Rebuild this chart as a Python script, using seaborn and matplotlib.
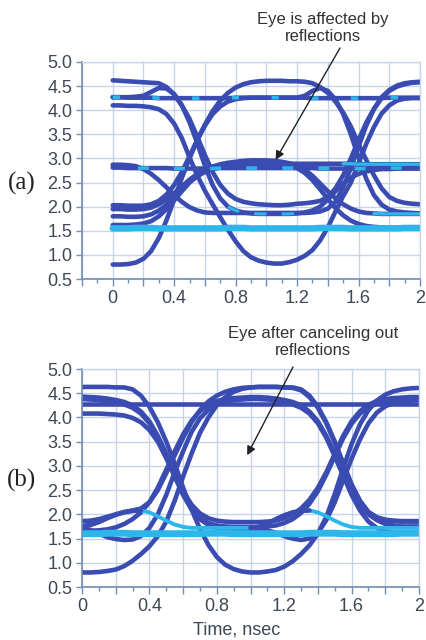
import matplotlib
matplotlib.use("Agg")
import matplotlib.pyplot as plt
from matplotlib.ticker import MultipleLocator, FuncFormatter
import seaborn as sns

# ---------------- data ----------------
TIME_NS = [0.00, 0.05, 0.10, 0.15, 0.20, 0.25, 0.30, 0.35, 0.40, 0.45,
           0.50, 0.55, 0.60, 0.65, 0.70, 0.75, 0.80, 0.85, 0.90, 0.95,
           1.00, 1.05, 1.10, 1.15, 1.20, 1.25, 1.30, 1.35, 1.40, 1.45,
           1.50, 1.55, 1.60, 1.65, 1.70, 1.75, 1.80, 1.85, 1.90, 1.95,
           2.00]

X_TICKS = [0.0, 0.4, 0.8, 1.2, 1.6, 2.0]
X_TICK_LABELS = ["0", "0.4", "0.8", "1.2", "1.6", "2"]
Y_TICKS = [0.5, 1.0, 1.5, 2.0, 2.5, 3.0, 3.5, 4.0, 4.5, 5.0]
Y_TICK_LABELS = ["0.5", "1.0", "1.5", "2.0", "2.5", "3.0", "3.5", "4.0", "4.5", "5.0"]

PANEL_LABELS = ["(a)", "(b)"]
NOTE_A = "Eye is affected by\nreflections"
NOTE_B = "Eye after canceling out\nreflections"
NOTE_A_TIP = (1.06, 2.97)
NOTE_B_TIP = (0.98, 3.22)
X_LABEL = "Time, nsec"

# panel (a): with reflections
A_FLAT_HI = [4.27, 4.27, 4.26, 4.26, 4.26, 4.26, 4.25, 4.25, 4.25, 4.25,
             4.25, 4.25, 4.25, 4.25, 4.25, 4.25, 4.26, 4.26, 4.26, 4.26,
             4.26, 4.26, 4.26, 4.26, 4.26, 4.26, 4.25, 4.25, 4.25, 4.25,
             4.25, 4.25, 4.25, 4.25, 4.25, 4.25, 4.26, 4.26, 4.26, 4.26,
             4.26]
A_FLAT_MID = [2.81, 2.81, 2.80, 2.80, 2.80, 2.80, 2.80, 2.80, 2.79, 2.79,
              2.79, 2.79, 2.79, 2.79, 2.80, 2.80, 2.80, 2.80, 2.80, 2.80,
              2.80, 2.80, 2.80, 2.80, 2.80, 2.80, 2.80, 2.79, 2.79, 2.79,
              2.79, 2.79, 2.79, 2.79, 2.80, 2.80, 2.80, 2.80, 2.80, 2.80,
              2.80]
A_FLAT_LO = [1.55, 1.55, 1.55, 1.56, 1.56, 1.56, 1.55, 1.55, 1.55, 1.55,
             1.55, 1.55, 1.55, 1.55, 1.55, 1.56, 1.56, 1.56, 1.55, 1.55,
             1.55, 1.55, 1.55, 1.55, 1.55, 1.55, 1.55, 1.56, 1.56, 1.56,
             1.56, 1.55, 1.55, 1.55, 1.55, 1.55, 1.55, 1.55, 1.56, 1.56,
             1.56]
A_TOP_FALL = [4.62, 4.61, 4.60, 4.59, 4.58, 4.57, 4.56, 4.48, 4.33, 4.10,
              3.82, 3.45, 3.07, 2.72, 2.45, 2.27, 2.16, 2.10, 2.07, 2.05,
              2.04, 2.03, 2.03, 2.04, 2.06, 2.07, 2.09, 2.12, 2.20, 2.38,
              2.65, 3.00, 3.38, 3.74, 4.03, 4.25, 4.40, 4.49, 4.54, 4.57,
              4.58]
A_BOT_RISE = [0.80, 0.80, 0.81, 0.84, 0.92, 1.08, 1.35, 1.72, 2.15, 2.60,
              3.00, 3.38, 3.70, 3.98, 4.20, 4.36, 4.47, 4.54, 4.58, 4.60,
              4.61, 4.61, 4.61, 4.60, 4.60, 4.59, 4.56, 4.48, 4.36, 4.18,
              3.95, 3.66, 3.30, 2.97, 2.65, 2.38, 2.20, 2.12, 2.08, 2.06,
              2.05]
A_DEEP = [4.10, 4.10, 4.09, 4.09, 4.08, 4.06, 4.02, 3.92, 3.72, 3.42,
          3.02, 2.65, 2.33, 2.05, 1.78, 1.52, 1.28, 1.08, 0.95, 0.88,
          0.84, 0.82, 0.82, 0.85, 0.90, 0.98, 1.10, 1.30, 1.57, 1.90,
          2.22, 2.50, 2.90, 3.30, 3.65, 3.93, 4.10, 4.20, 4.24, 4.25,
          4.25]
A_HI_BUMP_FALL = [4.27, 4.27, 4.27, 4.28, 4.30, 4.38, 4.46, 4.45, 4.33, 4.10,
                  3.75, 3.32, 2.85, 2.45, 2.17, 2.00, 1.92, 1.88, 1.86, 1.85,
                  1.85, 1.85, 1.85, 1.85, 1.86, 1.88, 1.92, 2.00, 2.15, 2.32,
                  2.48, 2.60, 2.68, 2.73, 2.76, 2.78, 2.78, 2.79, 2.79, 2.79,
                  2.79]
A_BAND_FALL = [2.87, 2.87, 2.86, 2.84, 2.78, 2.68, 2.55, 2.40, 2.24, 2.10,
               1.99, 1.92, 1.88, 1.87, 1.87, 1.87, 1.87, 1.87, 1.87, 1.87,
               1.87, 1.87, 1.87, 1.87, 1.87, 1.87, 1.88, 1.90, 1.96, 2.10,
               2.40, 2.80, 3.25, 3.68, 4.02, 4.27, 4.42, 4.51, 4.56, 4.58,
               4.59]
A_MID_ARC = [1.95, 1.95, 1.94, 1.94, 1.95, 1.98, 2.05, 2.15, 2.28, 2.42,
             2.56, 2.67, 2.76, 2.83, 2.88, 2.91, 2.93, 2.95, 2.96, 2.96,
             2.96, 2.95, 2.93, 2.90, 2.85, 2.77, 2.64, 2.48, 2.32, 2.17,
             2.05, 1.96, 1.90, 1.87, 1.86, 1.85, 1.85, 1.85, 1.85, 1.85,
             1.85]
A_LOW_RISE = [1.80, 1.80, 1.79, 1.79, 1.80, 1.84, 1.92, 2.04, 2.20, 2.38,
              2.55, 2.68, 2.77, 2.83, 2.86, 2.88, 2.89, 2.89, 2.89, 2.89,
              2.89, 2.89, 2.89, 2.89, 2.89, 2.89, 2.89, 2.89, 2.89, 2.89,
              2.89, 2.89, 2.88, 2.88, 2.88, 2.88, 2.88, 2.88, 2.88, 2.88,
              2.88]
A_LOW2 = [2.03, 2.03, 2.02, 2.02, 2.02, 2.05, 2.12, 2.25, 2.45, 2.72,
          3.05, 3.38, 3.68, 3.92, 4.08, 4.18, 4.23, 4.25, 4.26, 4.26,
          4.26, 4.26, 4.26, 4.26, 4.26, 4.30, 4.40, 4.46, 4.40, 4.22,
          3.92, 3.50, 3.02, 2.58, 2.24, 2.04, 1.94, 1.90, 1.88, 1.87,
          1.86]
A_LOW3 = [1.62, 1.62, 1.62, 1.63, 1.65, 1.70, 1.80, 1.95, 2.13, 2.32,
          2.50, 2.63, 2.72, 2.78, 2.82, 2.84, 2.85, 2.85, 2.85, 2.85,
          2.85, 2.85, 2.85, 2.84, 2.80, 2.70, 2.55, 2.36, 2.16, 1.97,
          1.82, 1.71, 1.64, 1.60, 1.58, 1.57, 1.56, 1.56, 1.56, 1.56,
          1.56]

# panel (b): reflections cancelled
B_FLAT_HI = [4.28, 4.28, 4.28, 4.28, 4.28, 4.28, 4.28, 4.28, 4.28, 4.28,
             4.28, 4.28, 4.28, 4.28, 4.28, 4.28, 4.28, 4.28, 4.28, 4.28,
             4.28, 4.28, 4.28, 4.28, 4.28, 4.28, 4.28, 4.28, 4.28, 4.28,
             4.28, 4.28, 4.28, 4.28, 4.28, 4.28, 4.28, 4.28, 4.28, 4.28,
             4.28]
B_FLAT_LO = [1.60, 1.60, 1.60, 1.61, 1.61, 1.61, 1.60, 1.60, 1.60, 1.60,
             1.60, 1.60, 1.60, 1.60, 1.60, 1.61, 1.61, 1.61, 1.60, 1.60,
             1.60, 1.60, 1.60, 1.60, 1.60, 1.60, 1.60, 1.61, 1.61, 1.61,
             1.61, 1.60, 1.60, 1.60, 1.60, 1.60, 1.60, 1.60, 1.61, 1.61,
             1.61]
B_TOP_HI = [4.63, 4.63, 4.63, 4.63, 4.62, 4.62, 4.58, 4.45, 4.22, 3.90,
            3.50, 3.05, 2.55, 2.10, 1.70, 1.37, 1.12, 0.96, 0.87, 0.82,
            0.80, 0.80, 0.82, 0.85, 0.92, 1.03, 1.18, 1.36, 1.60, 1.95,
            2.42, 2.95, 3.45, 3.86, 4.15, 4.35, 4.47, 4.54, 4.58, 4.60,
            4.61]
B_BOT_LO = [0.80, 0.80, 0.81, 0.83, 0.86, 0.93, 1.04, 1.18, 1.34, 1.55,
            1.85, 2.28, 2.78, 3.25, 3.68, 4.00, 4.25, 4.42, 4.53, 4.59,
            4.62, 4.63, 4.63, 4.63, 4.62, 4.62, 4.58, 4.45, 4.22, 3.90,
            3.50, 3.05, 2.60, 2.25, 2.03, 1.93, 1.88, 1.86, 1.85, 1.85,
            1.85]
B_HI2 = [4.43, 4.42, 4.41, 4.39, 4.36, 4.32, 4.25, 4.12, 3.92, 3.62,
         3.25, 2.85, 2.48, 2.20, 2.02, 1.92, 1.87, 1.85, 1.84, 1.84,
         1.84, 1.84, 1.85, 1.87, 1.92, 2.00, 2.12, 2.30, 2.55, 2.87,
         3.25, 3.62, 3.92, 4.13, 4.26, 4.34, 4.38, 4.40, 4.41, 4.42,
         4.42]
B_HI3 = [4.38, 4.37, 4.36, 4.34, 4.31, 4.27, 4.20, 4.08, 3.88, 3.58,
         3.20, 2.80, 2.42, 2.12, 1.93, 1.82, 1.77, 1.75, 1.74, 1.74,
         1.74, 1.74, 1.75, 1.77, 1.82, 1.90, 2.03, 2.22, 2.48, 2.82,
         3.20, 3.57, 3.87, 4.08, 4.21, 4.29, 4.33, 4.35, 4.36, 4.37,
         4.37]
B_HI4 = [4.08, 4.08, 4.08, 4.07, 4.06, 4.04, 3.99, 3.90, 3.74, 3.50,
         3.16, 2.78, 2.40, 2.10, 1.90, 1.78, 1.72, 1.70, 1.69, 1.68,
         1.68, 1.68, 1.67, 1.62, 1.55, 1.50, 1.47, 1.50, 1.62, 1.88,
         2.25, 2.70, 3.15, 3.55, 3.88, 4.10, 4.23, 4.30, 4.33, 4.35,
         4.36]
B_BUMP = [1.76, 1.78, 1.84, 1.92, 1.99, 2.04, 2.07, 2.08, 2.04, 1.96,
          1.87, 1.79, 1.74, 1.72, 1.72, 1.72, 1.72, 1.72, 1.72, 1.72,
          1.72, 1.74, 1.80, 1.90, 1.98, 2.04, 2.07, 2.08, 2.04, 1.96,
          1.87, 1.79, 1.74, 1.72, 1.72, 1.72, 1.72, 1.72, 1.72, 1.72,
          1.72]
B_DIP = [1.72, 1.68, 1.60, 1.53, 1.49, 1.47, 1.48, 1.55, 1.72, 2.00,
         2.40, 2.87, 3.30, 3.70, 3.98, 4.16, 4.27, 4.33, 4.36, 4.37,
         4.38, 4.38, 4.37, 4.35, 4.32, 4.27, 4.20, 4.08, 3.88, 3.58,
         3.20, 2.80, 2.40, 2.08, 1.85, 1.72, 1.65, 1.62, 1.61, 1.60,
         1.60]
B_RISE_HUMP = [1.86, 1.87, 1.90, 1.95, 2.00, 2.05, 2.08, 2.12, 2.25, 2.50,
               2.85, 3.22, 3.58, 3.90, 4.15, 4.33, 4.45, 4.53, 4.58, 4.61,
               4.62, 4.63, 4.63, 4.63, 4.62, 4.61, 4.56, 4.42, 4.20, 3.88,
               3.48, 3.05, 2.62, 2.28, 2.05, 1.94, 1.89, 1.87, 1.86, 1.86,
               1.86]
B_LO_RISE = [1.66, 1.66, 1.67, 1.69, 1.73, 1.80, 1.90, 2.04, 2.25, 2.55,
             2.92, 3.30, 3.65, 3.93, 4.13, 4.26, 4.34, 4.38, 4.40, 4.41,
             4.42, 4.42, 4.41, 4.39, 4.36, 4.32, 4.25, 4.12, 3.92, 3.62,
             3.25, 2.85, 2.48, 2.20, 2.00, 1.88, 1.80, 1.77, 1.75, 1.75,
             1.75]

# ---------------- style ----------------
sns.set_theme(style="white")
plt.rcParams['font.family'] = ['Liberation Sans', 'DejaVu Sans']

DARK = "#3a4cb2"
CYAN = "#2cb6ea"
GRID = "#c6d3e8"
SPINE = "#6f8db3"
TXT = "#3c4855"
LW = 3.3

W, H = 426, 640
fig = plt.figure(figsize=(W / 100, H / 100), dpi=100)
fig.patch.set_facecolor("white")
ax_a = fig.add_axes([82 / W, 1 - 279 / H, (420 - 82) / W, (279 - 62) / H])
ax_b = fig.add_axes([82 / W, 1 - 587 / H, (419 - 82) / W, (587 - 369) / H])


def trace(ax, vals, color=DARK, lw=LW, start=0, stop=None, **kw):
    xs = TIME_NS[start:stop]
    ys = vals[start:stop]
    sns.lineplot(x=xs, y=ys, ax=ax, color=color, lw=lw, estimator=None,
                 sort=False, solid_capstyle="round", solid_joinstyle="round",
                 legend=False, **kw)


def style_axes(ax, xmin):
    ax.set_xlim(xmin, 2.0)
    ax.set_ylim(0.5, 5.0)
    ax.set_facecolor("white")
    ax.xaxis.set_major_locator(MultipleLocator(0.2))
    ax.xaxis.set_minor_locator(MultipleLocator(0.1))
    ax.yaxis.set_major_locator(MultipleLocator(0.5))
    xlab = {round(t, 1): l for t, l in zip(X_TICKS, X_TICK_LABELS)}
    ylab = {round(t, 1): l for t, l in zip(Y_TICKS, Y_TICK_LABELS)}
    ax.xaxis.set_major_formatter(FuncFormatter(lambda v, p: xlab.get(round(v, 1), "")))
    ax.yaxis.set_major_formatter(FuncFormatter(lambda v, p: ylab.get(round(v, 1), "")))
    ax.grid(True, which="major", color=GRID, lw=1.0)
    ax.set_axisbelow(True)
    ax.tick_params(axis="x", which="major", direction="out", length=5, width=1,
                   color=SPINE, labelcolor=TXT, labelsize=13, pad=3, bottom=True)
    ax.tick_params(axis="x", which="minor", direction="out", length=3, width=1,
                   color=SPINE, bottom=True)
    ax.tick_params(axis="y", which="major", direction="out", length=4, width=1,
                   color=SPINE, labelcolor=TXT, labelsize=13, pad=3, left=True)
    for side in ("left", "bottom"):
        ax.spines[side].set_color(SPINE)
        ax.spines[side].set_linewidth(1.2)
    for side in ("top", "right"):
        ax.spines[side].set_color(GRID)
        ax.spines[side].set_linewidth(1.0)
    ax.set_xlabel("")
    ax.set_ylabel("")


# ---- panel (a)
for vals in [A_DEEP, A_BOT_RISE, A_TOP_FALL, A_HI_BUMP_FALL, A_BAND_FALL,
             A_MID_ARC, A_LOW_RISE, A_LOW2, A_LOW3, A_FLAT_HI, A_FLAT_MID]:
    trace(ax_a, vals)
trace(ax_a, A_FLAT_HI, color=CYAN, lw=2.6, linestyle=(0, (2, 9)))
trace(ax_a, A_FLAT_MID, color=CYAN, lw=2.6, linestyle=(3, (3, 7)))
trace(ax_a, A_LOW_RISE, color=CYAN, lw=2.4, start=30)
trace(ax_a, A_MID_ARC, color=CYAN, lw=2.4, start=34)
trace(ax_a, A_HI_BUMP_FALL, color=CYAN, lw=2.2, start=15, stop=25, linestyle=(0, (4, 5)))
trace(ax_a, A_FLAT_LO, color=CYAN, lw=4.6)
style_axes(ax_a, -0.2)

# ---- panel (b)
for vals in [B_TOP_HI, B_BOT_LO, B_HI2, B_HI3, B_HI4, B_DIP, B_RISE_HUMP,
             B_LO_RISE, B_FLAT_HI]:
    trace(ax_b, vals)
trace(ax_b, B_BUMP, color=CYAN, lw=2.8)
trace(ax_b, B_BUMP, color=DARK, lw=LW, start=0, stop=8)
trace(ax_b, B_BUMP, color=DARK, lw=LW, start=20, stop=28)
trace(ax_b, B_FLAT_LO, color=CYAN, lw=5.0)
style_axes(ax_b, 0.0)

# ---- texts and arrows
fig.text(323 / W, 1 - 28 / H, NOTE_A, ha="center", va="center", fontsize=12,
         color="#333333", linespacing=1.2)
ax_a.annotate("", xy=NOTE_A_TIP, xycoords="data",
              xytext=(340 / W, 1 - 48 / H), textcoords="figure fraction",
              arrowprops=dict(arrowstyle="-|>", color="#222222", lw=1.0,
                              mutation_scale=13, shrinkA=0, shrinkB=0))
fig.text(313 / W, 1 - 342 / H, NOTE_B, ha="center", va="center", fontsize=12,
         color="#333333", linespacing=1.1)
ax_b.annotate("", xy=NOTE_B_TIP, xycoords="data",
              xytext=(293 / W, 1 - 367 / H), textcoords="figure fraction",
              arrowprops=dict(arrowstyle="-|>", color="#222222", lw=1.0,
                              mutation_scale=13, shrinkA=0, shrinkB=0))

fig.text(22 / W, 1 - 183 / H, PANEL_LABELS[0], ha="center", va="center",
         fontsize=18, color="#222222", family=["Liberation Serif", "DejaVu Serif"])
fig.text(22 / W, 1 - 480 / H, PANEL_LABELS[1], ha="center", va="center",
         fontsize=18, color="#222222", family=["Liberation Serif", "DejaVu Serif"])
fig.text(237 / W, 1 - 630 / H, X_LABEL, ha="center", va="center",
         fontsize=13, color=TXT)

fig.savefig("out.png", dpi=100)
